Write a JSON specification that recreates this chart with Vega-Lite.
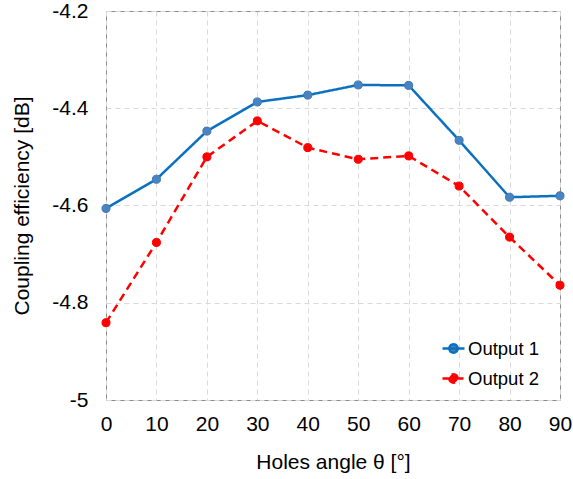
{
  "$schema": "https://vega.github.io/schema/vega-lite/v6.json",
  "width": 454,
  "height": 389,
  "autosize": {"type": "none"},
  "padding": {"left": 106, "top": 11, "right": 13, "bottom": 79},
  "background": "white",
  "config": {
    "font": "Liberation Sans",
    "view": {"stroke": "#8c8c8c", "strokeWidth": 1},
    "axis": {
      "labelFont": "Liberation Sans",
      "titleFont": "Liberation Sans",
      "labelFontSize": 21,
      "titleFontSize": 21,
      "titleFontWeight": "normal",
      "labelColor": "#000000",
      "titleColor": "#000000",
      "gridColor": "#d9d9d9",
      "gridDash": [5, 4],
      "gridWidth": 1,
      "domain": false,
      "ticks": false,
      "tickSize": 0
    }
  },
  "data": {
    "values": [
      {"angle": 0, "series": "Output 1", "eff": -4.606},
      {"angle": 10, "series": "Output 1", "eff": -4.546},
      {"angle": 20, "series": "Output 1", "eff": -4.447},
      {"angle": 30, "series": "Output 1", "eff": -4.387},
      {"angle": 40, "series": "Output 1", "eff": -4.373},
      {"angle": 50, "series": "Output 1", "eff": -4.352},
      {"angle": 60, "series": "Output 1", "eff": -4.353},
      {"angle": 70, "series": "Output 1", "eff": -4.466},
      {"angle": 80, "series": "Output 1", "eff": -4.583},
      {"angle": 90, "series": "Output 1", "eff": -4.580},
      {"angle": 0, "series": "Output 2", "eff": -4.841},
      {"angle": 10, "series": "Output 2", "eff": -4.676},
      {"angle": 20, "series": "Output 2", "eff": -4.500},
      {"angle": 30, "series": "Output 2", "eff": -4.426},
      {"angle": 40, "series": "Output 2", "eff": -4.481},
      {"angle": 50, "series": "Output 2", "eff": -4.505},
      {"angle": 60, "series": "Output 2", "eff": -4.498},
      {"angle": 70, "series": "Output 2", "eff": -4.560},
      {"angle": 80, "series": "Output 2", "eff": -4.665},
      {"angle": 90, "series": "Output 2", "eff": -4.764}
    ]
  },
  "encoding": {
    "x": {
      "field": "angle",
      "type": "quantitative",
      "scale": {"domain": [0, 90], "nice": false, "zero": false},
      "axis": {
        "values": [0, 10, 20, 30, 40, 50, 60, 70, 80, 90],
        "title": "Holes angle θ [°]",
        "labelPadding": 13,
        "titlePadding": 17,
        "labelFlush": false
      }
    },
    "y": {
      "field": "eff",
      "type": "quantitative",
      "scale": {"domain": [-5, -4.2], "nice": false, "zero": false},
      "axis": {
        "values": [-5, -4.8, -4.6, -4.4, -4.2],
        "labelExpr": "'' + datum.value",
        "title": "Coupling efficiency [dB]",
        "labelPadding": 18,
        "titlePadding": 19,
        "labelFlush": false
      }
    }
  },
  "layer": [
    {
      "mark": {"type": "line", "strokeWidth": 2.5},
      "encoding": {
        "color": {
          "field": "series",
          "type": "nominal",
          "scale": {"domain": ["Output 1", "Output 2"], "range": ["#0a70c0", "#ff0000"]},
          "legend": {
            "title": null,
            "orient": "none",
            "legendX": 335,
            "legendY": 325,
            "labelFont": "Liberation Sans",
            "labelFontSize": 18.5,
            "labelColor": "#000000",
            "labelOffset": 2,
            "rowPadding": 8,
            "symbolType": "M-1,0H1M-0.38,0A0.38,0.38 0 1,0 0.38,0A0.38,0.38 0 1,0 -0.38,0Z",
            "symbolSize": 484,
            "symbolStrokeWidth": 2.5,
            "encode": {
              "symbols": {"update": {"fill": {"scale": "color", "field": "value"}, "strokeDash": {"value": []}}}
            }
          }
        },
        "strokeDash": {
          "field": "series",
          "type": "nominal",
          "scale": {"domain": ["Output 1", "Output 2"], "range": [[1, 0], [8, 5]]},
          "legend": null
        }
      }
    },
    {
      "mark": {"type": "point", "filled": true, "size": 65, "opacity": 1, "strokeWidth": 1},
      "encoding": {
        "fill": {
          "field": "series",
          "type": "nominal",
          "scale": {"domain": ["Output 1", "Output 2"], "range": ["#4a84c0", "#ff0000"]},
          "legend": null
        },
        "stroke": {
          "field": "series",
          "type": "nominal",
          "scale": {"domain": ["Output 1", "Output 2"], "range": ["#3f78b4", "#ff0000"]},
          "legend": null
        }
      }
    }
  ]
}
